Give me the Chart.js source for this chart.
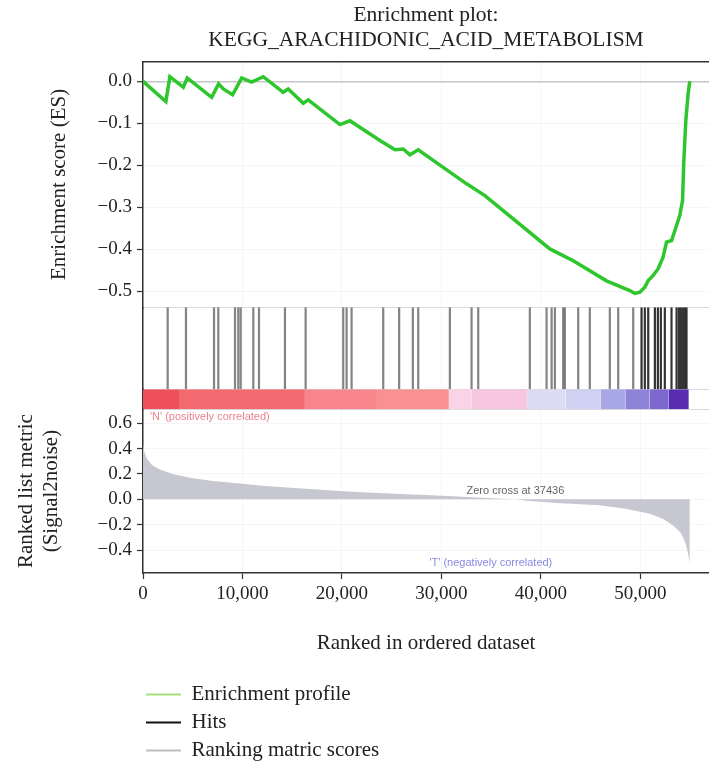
<!DOCTYPE html>
<html>
<head>
<meta charset="utf-8">
<title>Enrichment plot</title>
<script src="https://cdn.jsdelivr.net/npm/chart.js@4.4.1/dist/chart.umd.min.js"></script>
<style>
  html, body { margin: 0; padding: 0; background: #fff; }
  #wrap { position: relative; width: 709px; height: 767px; overflow: hidden; }
  #gsea { position: absolute; left: 0; top: 0; }
  #key { position: absolute; left: 139px; top: 677px; }
</style>
</head>
<body>
<div id="wrap">
  <canvas id="gsea" width="709" height="767"></canvas>
  <canvas id="key" width="260" height="280"></canvas>
</div>
<script>
// running enrichment score
const esRank = [0, 2300, 2700, 4050, 4450, 6900, 7600, 8070, 9010, 9920, 10920, 12090,
  14100, 14600, 16110, 16610, 19800, 20800, 23820, 25330, 26160, 26830, 27670, 32530,
  34370, 40900, 43250, 46600, 48940, 49450, 49950, 50450, 50790, 51290, 51790, 52290,
  52630, 53130, 53470, 53970, 54240, 54370, 54570, 54800, 54970];
const esScore = [0, -0.048, 0.011, -0.014, 0.008, -0.038, -0.006, -0.018, -0.032, 0.008, -0.002, 0.011,
  -0.026, -0.018, -0.052, -0.044, -0.103, -0.094, -0.141, -0.163, -0.161, -0.175, -0.163, -0.244,
  -0.272, -0.399, -0.427, -0.475, -0.498, -0.505, -0.502, -0.490, -0.474, -0.462, -0.446, -0.418,
  -0.383, -0.379, -0.355, -0.319, -0.284, -0.189, -0.093, -0.030, 0];

// positions of the gene set members in the ranked list
const hitRanks = [2480, 4320, 7140, 7570, 9250, 9580, 9820, 11090, 11660, 14270, 16350,
  20130, 20470, 20970, 24150, 25750, 27130, 27670, 30850, 33030, 33700, 38890, 40570,
  41080, 41410, 42240, 42410, 43750, 44920, 46930, 47770, 49280, 50120, 50450, 50790,
  51460, 51760, 52060, 52460, 53130, 53640, 53870, 54070, 54270, 54470, 54640];

// ranked list metric (signal2noise)
const metricRank = [0, 150, 400, 900, 1700, 3000, 4700, 7000, 9750, 12000, 14800, 17500,
  19800, 23000, 26000, 29000, 31200, 34000, 37436, 38600, 42000, 45900, 48500, 50950,
  52300, 53300, 54000, 54300, 54600, 54800, 54970];
const metricValue = [0.43, 0.37, 0.32, 0.27, 0.236, 0.2, 0.171, 0.145, 0.124, 0.108, 0.092, 0.078,
  0.066, 0.052, 0.042, 0.032, 0.025, 0.012, 0, -0.012, -0.03, -0.047, -0.075, -0.113,
  -0.155, -0.205, -0.26, -0.3, -0.36, -0.43, -0.5];
const zeroCross = 37436;

// colour strip: block edges along the ranked list
const stripEdges = [0, 3620, 16280, 23520, 30750, 33000, 38590, 42500, 46030, 48540, 50900, 52860, 54870];
const stripColors = ['#ee4f5b', '#f26970', '#f7858b', '#f8918f', '#f9d3e6', '#f6c5df',
  '#dddcf5', '#d0d0f2', '#a8a7e6', '#8d84da', '#7a68cf', '#5a2db0'];

const xTicks = [0, 10000, 20000, 30000, 40000, 50000];
const esTicks = [0, -0.1, -0.2, -0.3, -0.4, -0.5];
const metricTicks = [0.6, 0.4, 0.2, 0, -0.2, -0.4];

const legendLabels = ['Enrichment profile', 'Hits', 'Ranking matric scores'];
const legendColors = ['#a6df7c', '#111111', '#bdbdbd'];

Chart.defaults.font.family = "'Liberation Serif', 'Times New Roman', serif";
Chart.defaults.color = '#222';

const SERIF = "'Liberation Serif', 'Times New Roman', serif";
const faint = 'rgba(0,0,0,0.035)';
const fmt1 = v => (v < 0 ? '\u2212' : '') + Math.abs(v).toFixed(1);
const LEFT_W = 143;

function leftAxis(extra) {
  return Object.assign({
    type: 'linear',
    position: 'left',
    stack: 'gsea',
    border: { color: '#333', width: 1.5 },
    afterFit: s => { s.width = LEFT_W; }
  }, extra);
}

// annotations placed through the scales
const notes = {
  id: 'notes',
  afterDatasetsDraw(chart) {
    const { ctx, chartArea, scales } = chart;
    const x = scales.x, yRank = scales.yRank, yBar = scales.yBar;
    ctx.save();
    ctx.font = "11px 'Liberation Sans', Arial, sans-serif";
    ctx.textBaseline = 'middle';
    ctx.textAlign = 'center';
    ctx.fillStyle = 'rgba(70,70,70,0.85)';
    ctx.fillText('Zero cross at ' + zeroCross, x.getPixelForValue(zeroCross), yRank.getPixelForValue(0.065));
    ctx.textAlign = 'left';
    ctx.fillStyle = 'rgba(226,72,92,0.7)';
    ctx.fillText("'N' (positively correlated)", chartArea.left + 7, yBar.bottom + 8);
    ctx.fillStyle = 'rgba(84,84,214,0.7)';
    ctx.fillText("'T' (negatively correlated)", x.getPixelForValue(28800), yRank.bottom - 10.5);
    ctx.restore();
  }
};

const stripSets = stripColors.map((c, i) => ({
  label: 'strip' + i,
  data: [{ x: stripEdges[i], y: 1 }, { x: stripEdges[i + 1], y: 1 }],
  yAxisID: 'yBar',
  fill: 'origin',
  backgroundColor: c,
  borderColor: 'transparent',
  borderWidth: 1,
  pointRadius: 0
}));

new Chart(document.getElementById('gsea'), {
  type: 'line',
  data: {
    datasets: [
      {
        label: 'Enrichment profile',
        data: esRank.map((r, i) => ({ x: r, y: esScore[i] })),
        yAxisID: 'yEs',
        borderColor: '#2dc62d',
        borderWidth: 3.5,
        pointRadius: 0,
        tension: 0,
        fill: false
      },
      {
        label: 'Hits',
        data: hitRanks.flatMap(r => [{ x: r, y: 0 }, { x: r, y: 1 }, { x: r, y: null }]),
        yAxisID: 'yHits',
        borderColor: 'rgba(80,80,80,0.7)',
        borderWidth: 2.2,
        pointRadius: 0,
        spanGaps: false,
        segment: {
          borderColor: ctx => ctx.p0.parsed.x > 49900 ? 'rgba(30,30,30,0.9)' : 'rgba(80,80,80,0.7)'
        }
      },
      {
        label: 'Ranking matric scores',
        data: metricRank.map((r, i) => ({ x: r, y: metricValue[i] })),
        yAxisID: 'yRank',
        fill: 'origin',
        backgroundColor: 'rgb(198,199,209)',
        borderColor: 'transparent',
        borderWidth: 1,
        pointRadius: 0,
        tension: 0
      },
      ...stripSets
    ]
  },
  options: {
    responsive: false,
    animation: false,
    events: [],
    layout: { padding: 0 },
    scales: {
      x: {
        type: 'linear',
        position: 'bottom',
        min: 0,
        max: 56900,
        afterBuildTicks: s => { s.ticks = xTicks.map(v => ({ value: v })); },
        afterFit: s => { s.height = 767 - 573; },
        ticks: {
          callback: v => Number(v).toLocaleString('en-US'),
          font: { size: 19 },
          color: '#222',
          padding: 4,
          maxRotation: 0,
          autoSkip: false
        },
        grid: { color: faint, tickColor: '#333', tickLength: 6, tickWidth: 1.2 },
        border: { color: '#333', width: 1.5 },
        title: {
          display: true,
          text: 'Ranked in ordered dataset',
          font: { size: 21 },
          color: '#222',
          padding: { top: 0, bottom: 111 }
        }
      },
      xTop: {
        type: 'linear',
        position: 'top',
        min: 0,
        max: 56900,
        ticks: { display: false },
        grid: { display: false, drawTicks: false },
        border: { color: '#333', width: 1.5 },
        afterFit: s => { s.height = 0; }
      },
      yEs: leftAxis({
        stackWeight: 246,
        weight: 4,
        min: -0.538,
        max: 0.047,
        afterBuildTicks: s => { s.ticks = esTicks.map(v => ({ value: v })); },
        ticks: { callback: fmt1, font: { size: 19 }, color: '#222', padding: 5, autoSkip: false },
        grid: {
          color: c => (c.tick && c.tick.value === 0) ? '#c6c6cc' : faint,
          lineWidth: c => (c.tick && c.tick.value === 0) ? 1.5 : 1,
          tickColor: '#333', tickLength: 6, tickWidth: 1.2
        },
        title: {
          display: true,
          text: 'Enrichment score (ES)',
          font: { size: 21 },
          color: '#222',
          padding: { top: 47, bottom: 0 }
        }
      }),
      yHits: leftAxis({
        stackWeight: 82,
        weight: 3,
        min: 0,
        max: 1,
        afterBuildTicks: s => { s.ticks = [{ value: 0 }, { value: 1 }]; },
        ticks: { display: false },
        grid: { color: '#dadadd', drawTicks: false }
      }),
      yBar: leftAxis({
        stackWeight: 20,
        weight: 2,
        min: 0,
        max: 1,
        afterBuildTicks: s => { s.ticks = [{ value: 0 }]; },
        ticks: { display: false },
        grid: { color: '#dadadd', drawTicks: false }
      }),
      yRank: leftAxis({
        stackWeight: 164,
        weight: 1,
        min: -0.58,
        max: 0.71,
        afterBuildTicks: s => { s.ticks = metricTicks.map(v => ({ value: v })); },
        ticks: { callback: fmt1, font: { size: 19 }, color: '#222', padding: 5, autoSkip: false },
        grid: { color: faint, tickColor: '#333', tickLength: 6, tickWidth: 1.2 },
        title: {
          display: true,
          text: ['Ranked list metric', '(Signal2noise)'],
          font: { size: 21 },
          color: '#222',
          padding: { top: 14, bottom: 0 }
        }
      })
    },
    plugins: {
      legend: { display: false },
      tooltip: { enabled: false },
      title: {
        display: true,
        fullSize: false,
        text: ['Enrichment plot:', 'KEGG_ARACHIDONIC_ACID_METABOLISM'],
        font: { size: 21.5, weight: 'normal', family: SERIF },
        color: '#222',
        padding: { top: 2, bottom: 8 }
      }
    }
  },
  plugins: [notes]
});

// legend, one entry per line
new Chart(document.getElementById('key'), {
  type: 'line',
  data: {
    datasets: legendLabels.map((label, i) => ({
      label,
      data: [],
      backgroundColor: legendColors[i],
      borderColor: legendColors[i],
      borderWidth: 0
    }))
  },
  options: {
    responsive: false,
    animation: false,
    events: [],
    layout: { padding: 0 },
    scales: { x: { display: false }, y: { display: false } },
    plugins: {
      tooltip: { enabled: false },
      legend: {
        position: 'top',
        align: 'start',
        labels: {
          boxWidth: 35,
          boxHeight: 2,
          padding: 7,
          color: '#222',
          font: { size: 21, family: SERIF }
        }
      }
    }
  }
});
</script>
</body>
</html>
